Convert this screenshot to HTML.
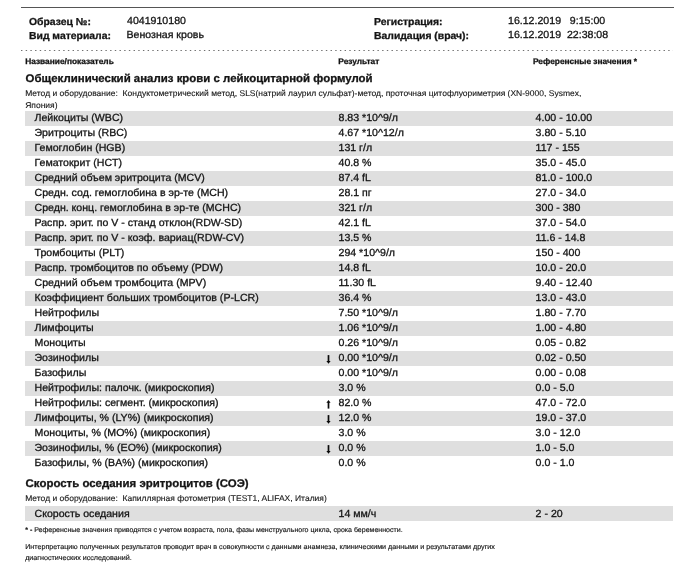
<!DOCTYPE html>
<html><head><meta charset="utf-8"><title>Report</title>
<style>
html,body{margin:0;padding:0;background:#fff;}
html{filter:grayscale(1);}
body{width:700px;height:579px;position:relative;overflow:hidden;text-rendering:geometricPrecision;font-family:"Liberation Sans",sans-serif;color:#141414;-webkit-text-stroke:0.3px #141414;}
.abs{position:absolute;white-space:nowrap;}
.t{transform:scaleY(0.975);transform-origin:0 50%;}
.topline{position:absolute;left:21px;top:7px;width:653px;height:1px;background:#555;}
.dot{position:absolute;left:21px;top:50px;width:652px;height:0;border-top:1px dotted #777;}
.hb{font-weight:bold;font-size:10.4px;line-height:14px;}
.hv{font-size:10.6px;line-height:14px;}
.th{font-weight:bold;font-size:8.35px;line-height:10px;}
.sec{font-weight:bold;font-size:11.44px;line-height:14px;}
.meth{font-size:8.5px;line-height:13px;-webkit-text-stroke-width:0.12px;}
.row{position:absolute;left:25px;width:648px;height:15px;font-size:10.6px;line-height:15px;white-space:nowrap;}
.row.g{background:#dfdfdf;}
.row span{position:absolute;top:0px;transform:scaleY(0.975);transform-origin:0 50%;}
.row.last span{top:1px;}
.row .n{left:9.5px;}
.row .r{left:313.5px;}
.row .f{left:510.6px;}
.ar{position:absolute;left:324.65px;}
.fn{font-size:7.2px;line-height:10px;-webkit-text-stroke-width:0.15px;}
</style></head><body>
<div class="topline"></div>
<div class="abs t hb" style="left:29px;top:16px">Образец №:</div>
<div class="abs t hv" style="left:127px;top:14px">4041910180</div>
<div class="abs t hb" style="left:29px;top:30px">Вид материала:</div>
<div class="abs t hv" style="left:126.5px;top:28px">Венозная кровь</div>
<div class="abs t hb" style="left:374px;top:16px">Регистрация:</div>
<div class="abs t hv" style="left:508px;top:14px;white-space:pre">16.12.2019   9:15:00</div>
<div class="abs t hb" style="left:374px;top:30px">Валидация (врач):</div>
<div class="abs t hv" style="left:508px;top:28px;white-space:pre">16.12.2019  22:38:08</div>
<svg class="abs" style="left:0;top:48px" width="700" height="5" viewBox="0 0 700 5"><line x1="21" y1="2.5" x2="673" y2="2.5" stroke="#707070" stroke-width="1.15" stroke-dasharray="1.4 3.29"/></svg>
<div class="abs t th" style="left:25.2px;top:56px">Название/показатель</div>
<div class="abs t th" style="left:338.3px;top:56px">Результат</div>
<div class="abs t th" style="left:533px;top:56px">Референсные значения *</div>
<div class="abs t sec" style="left:25.6px;top:72px">Общеклинический анализ крови с лейкоцитарной формулой</div>
<div class="abs t meth" style="left:25.2px;top:87px">Метод и оборудование:&nbsp; Кондуктометрический метод, SLS(натрий лаурил сульфат)-метод, проточная цитофлуориметрия (XN-9000, Sysmex,</div>
<div class="abs t meth" style="left:25.2px;top:99px">Япония)</div>
<div class="row g" style="top:111px"><span class="n">Лейкоциты (WBC)</span><span class="r">8.83 *10^9/л</span><span class="f">4.00 - 10.00</span></div>
<div class="row" style="top:126px"><span class="n">Эритроциты (RBC)</span><span class="r">4.67 *10^12/л</span><span class="f">3.80 - 5.10</span></div>
<div class="row g" style="top:141px"><span class="n">Гемоглобин (HGB)</span><span class="r">131 г/л</span><span class="f">117 - 155</span></div>
<div class="row" style="top:156px"><span class="n">Гематокрит (HCT)</span><span class="r">40.8 %</span><span class="f">35.0 - 45.0</span></div>
<div class="row g" style="top:171px"><span class="n">Средний объем эритроцита (MCV)</span><span class="r">87.4 fL</span><span class="f">81.0 - 100.0</span></div>
<div class="row" style="top:186px"><span class="n">Средн. сод. гемоглобина в эр-те (MCH)</span><span class="r">28.1 пг</span><span class="f">27.0 - 34.0</span></div>
<div class="row g" style="top:201px"><span class="n">Средн. конц. гемоглобина в эр-те (MCHC)</span><span class="r">321 г/л</span><span class="f">300 - 380</span></div>
<div class="row" style="top:216px"><span class="n">Распр. эрит. по V - станд отклон(RDW-SD)</span><span class="r">42.1 fL</span><span class="f">37.0 - 54.0</span></div>
<div class="row g" style="top:231px"><span class="n">Распр. эрит. по V - коэф. вариац(RDW-CV)</span><span class="r">13.5 %</span><span class="f">11.6 - 14.8</span></div>
<div class="row" style="top:246px"><span class="n">Тромбоциты (PLT)</span><span class="r">294 *10^9/л</span><span class="f">150 - 400</span></div>
<div class="row g" style="top:261px"><span class="n">Распр. тромбоцитов по объему (PDW)</span><span class="r">14.8 fL</span><span class="f">10.0 - 20.0</span></div>
<div class="row" style="top:276px"><span class="n">Средний объем тромбоцита (MPV)</span><span class="r">11.30 fL</span><span class="f">9.40 - 12.40</span></div>
<div class="row g" style="top:291px"><span class="n">Коэффициент больших тромбоцитов (P-LCR)</span><span class="r">36.4 %</span><span class="f">13.0 - 43.0</span></div>
<div class="row" style="top:306px"><span class="n">Нейтрофилы</span><span class="r">7.50 *10^9/л</span><span class="f">1.80 - 7.70</span></div>
<div class="row g" style="top:321px"><span class="n">Лимфоциты</span><span class="r">1.06 *10^9/л</span><span class="f">1.00 - 4.80</span></div>
<div class="row" style="top:336px"><span class="n">Моноциты</span><span class="r">0.26 *10^9/л</span><span class="f">0.05 - 0.82</span></div>
<div class="row g" style="top:351px"><span class="n">Эозинофилы</span><span class="r">0.00 *10^9/л</span><span class="f">0.02 - 0.50</span></div><svg class="ar" style="top:355px" width="7" height="10" viewBox="0 0 7 10"><path d="M3.5 0.1V7" stroke="#0a0a0a" stroke-width="1.7" fill="none"/><path d="M1.4 6.1L5.6 6.1L3.5 8.8Z" fill="#0a0a0a"/></svg>
<div class="row" style="top:366px"><span class="n">Базофилы</span><span class="r">0.00 *10^9/л</span><span class="f">0.00 - 0.08</span></div>
<div class="row g" style="top:381px"><span class="n">Нейтрофилы: палочк. (микроскопия)</span><span class="r">3.0 %</span><span class="f">0.0 - 5.0</span></div>
<div class="row" style="top:396px"><span class="n">Нейтрофилы: сегмент. (микроскопия)</span><span class="r">82.0 %</span><span class="f">47.0 - 72.0</span></div><svg class="ar" style="top:400px" width="7" height="10" viewBox="0 0 7 10"><path d="M3.5 8.6V2" stroke="#0a0a0a" stroke-width="1.7" fill="none"/><path d="M1.4 2.7L5.6 2.7L3.5 0Z" fill="#0a0a0a"/></svg>
<div class="row g" style="top:411px"><span class="n">Лимфоциты, % (LY%) (микроскопия)</span><span class="r">12.0 %</span><span class="f">19.0 - 37.0</span></div><svg class="ar" style="top:415px" width="7" height="10" viewBox="0 0 7 10"><path d="M3.5 0.1V7" stroke="#0a0a0a" stroke-width="1.7" fill="none"/><path d="M1.4 6.1L5.6 6.1L3.5 8.8Z" fill="#0a0a0a"/></svg>
<div class="row" style="top:426px"><span class="n">Моноциты, % (MO%) (микроскопия)</span><span class="r">3.0 %</span><span class="f">3.0 - 12.0</span></div>
<div class="row g" style="top:441px"><span class="n">Эозинофилы, % (EO%) (микроскопия)</span><span class="r">0.0 %</span><span class="f">1.0 - 5.0</span></div><svg class="ar" style="top:445px" width="7" height="10" viewBox="0 0 7 10"><path d="M3.5 0.1V7" stroke="#0a0a0a" stroke-width="1.7" fill="none"/><path d="M1.4 6.1L5.6 6.1L3.5 8.8Z" fill="#0a0a0a"/></svg>
<div class="row" style="top:456px"><span class="n">Базофилы, % (BA%) (микроскопия)</span><span class="r">0.0 %</span><span class="f">0.0 - 1.0</span></div>
<div class="abs t sec" style="left:25.6px;top:477px">Скорость оседания эритроцитов (СОЭ)</div>
<div class="abs t meth" style="left:25.2px;top:492px">Метод и оборудование:&nbsp; Капиллярная фотометрия (TEST1, ALIFAX, Италия)</div>
<div class="row g last" style="top:506px"><span class="n">Скорость оседания</span><span class="r">14 мм/ч</span><span class="f">2 - 20</span></div>
<div class="abs t fn" style="left:25.2px;top:526px;font-size:7.04px"><b>* -</b> Референсные значения приводятся с учетом возраста, пола, фазы менструального цикла, срока беременности.</div>
<div class="abs t fn" style="left:25.2px;top:542px;font-size:7.17px">Интерпретацию полученных результатов проводит врач в совокупности с данными анамнеза, клиническими данными и результатами других</div>
<div class="abs t fn" style="left:25.2px;top:553px;font-size:7.17px">диагностических исследований.</div>
</body></html>
